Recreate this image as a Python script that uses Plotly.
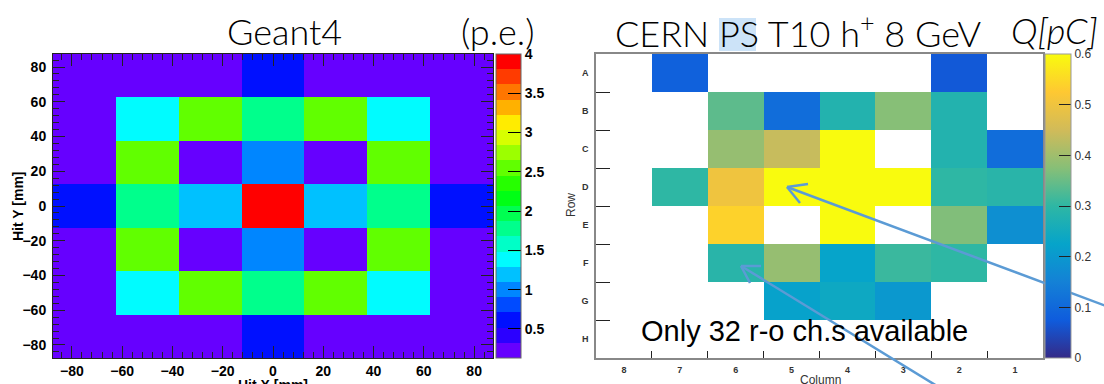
import colorsys
import plotly.graph_objects as go

W, H = 1104, 384

# ---------------- data: left panel (Geant4, p.e.) ----------------
g4_x = [-75, -50, -25, 0, 25, 50, 75]
g4_y = [75, 50, 25, 0, -25, -50, -75]
g4_z = [
    [0.20, 0.20, 0.20, 0.60, 0.20, 0.20, 0.20],
    [0.20, 1.40, 2.55, 1.78, 2.55, 1.40, 0.20],
    [0.20, 2.55, 0.20, 1.00, 0.20, 2.55, 0.20],
    [0.60, 1.78, 1.20, 3.95, 1.20, 1.78, 0.60],
    [0.20, 2.55, 0.20, 1.00, 0.20, 2.55, 0.20],
    [0.20, 1.40, 2.55, 1.78, 2.55, 1.40, 0.20],
    [0.20, 0.20, 0.20, 0.60, 0.20, 0.20, 0.20],
]
g4_zmin, g4_zmax = 0.13, 4.0
g4_cb_ticks = [0.5, 1, 1.5, 2, 2.5, 3, 3.5, 4]

# ---------------- data: right panel (CERN PS, Q[pC]) ----------------
ps_cols = ["8", "7", "6", "5", "4", "3", "2", "1"]
ps_rows = ["A", "B", "C", "D", "E", "F", "G", "H"]
ps_z = [
    [None, 0.085, None, None, None, None, 0.07, None],
    [None, None, 0.34, 0.11, 0.28, 0.375, 0.28, None],
    [None, None, 0.39, 0.44, 0.60, None, 0.28, 0.11],
    [None, 0.30, 0.50, 0.60, 0.60, 0.60, 0.30, 0.29],
    [None, None, 0.54, None, 0.60, None, 0.37, 0.18],
    [None, None, 0.29, 0.39, 0.225, 0.31, 0.30, None],
    [None, None, None, 0.22, 0.24, 0.20, None, None],
    [None, None, None, None, None, None, None, None],
]
ps_zmin, ps_zmax = 0.0, 0.6
ps_cb_ticks = [0, 0.1, 0.2, 0.3, 0.4, 0.5, 0.6]

# ---------------- colour scales ----------------
NB = 20
rainbow = []
for i in range(NB):
    r, g, b = colorsys.hsv_to_rgb((264.0 * (NB - 1 - i) / (NB - 1)) / 360.0, 1, 1)
    c = "rgb(%d,%d,%d)" % (round(r * 255), round(g * 255), round(b * 255))
    rainbow.append([i / NB, c])
    rainbow.append([(i + 1) / NB, c])

bird_r = [0.2082, 0.0592, 0.0780, 0.0232, 0.1802, 0.5301, 0.8186, 0.9956, 0.9764]
bird_g = [0.1664, 0.3599, 0.5041, 0.6419, 0.7178, 0.7492, 0.7328, 0.7862, 0.9832]
bird_b = [0.5293, 0.8684, 0.8385, 0.7914, 0.6425, 0.4662, 0.3499, 0.1968, 0.0539]
bird = [[i / 8, "rgb(%d,%d,%d)" % (round(r * 255), round(g * 255), round(b * 255))]
        for i, (r, g, b) in enumerate(zip(bird_r, bird_g, bird_b))]


def fx(px):
    return px / W


def fy(py):
    return 1 - py / H


TOP, BOT = 54, 358
ROOTF = "Liberation Sans, Arial, sans-serif"
TITLEF = "Lato, Noto Sans, sans-serif"

fig = go.Figure()

fig.add_trace(go.Heatmap(
    x=g4_x, y=g4_y, z=g4_z, zmin=g4_zmin, zmax=g4_zmax,
    colorscale=rainbow, xaxis="x", yaxis="y", hoverinfo="skip",
    colorbar=dict(
        x=fx(496), xanchor="left", xpad=0, ypad=0,
        y=fy((TOP + BOT) / 2), yanchor="middle",
        len=(BOT - TOP) / H, lenmode="fraction",
        thickness=25, thicknessmode="pixels",
        outlinewidth=1, outlinecolor="#666",
        ticks="inside", ticklen=13, tickcolor="black", tickwidth=1,
        tickvals=g4_cb_ticks, ticktext=[("%g" % v) for v in g4_cb_ticks],
        tickfont=dict(family=ROOTF, size=14, color="black", weight="bold"),
    ),
))

fig.add_trace(go.Heatmap(
    x=ps_cols, y=ps_rows, z=ps_z, zmin=ps_zmin, zmax=ps_zmax,
    colorscale=bird, xaxis="x2", yaxis="y2", hoverinfo="skip",
    colorbar=dict(
        x=fx(1045), xanchor="left", xpad=0, ypad=0,
        y=fy((TOP + BOT) / 2), yanchor="middle",
        len=(BOT - TOP) / H, lenmode="fraction",
        thickness=26, thicknessmode="pixels",
        outlinewidth=1, outlinecolor="#999",
        ticks="inside", ticklen=12, tickcolor="#222", tickwidth=1,
        tickvals=ps_cb_ticks, ticktext=[("%g" % v) for v in ps_cb_ticks],
        tickfont=dict(family=ROOTF, size=12, color="#333"),
    ),
))

axis_common = dict(
    showgrid=False, zeroline=False, showline=True,
    linecolor="#222", linewidth=1, mirror="allticks",
    ticks="inside", ticklen=12, tickwidth=1, tickcolor="#222",
    dtick=20, tick0=0,
    minor=dict(dtick=4, tick0=0, ticks="inside", ticklen=6, tickcolor="#222", showgrid=False),
    tickfont=dict(family=ROOTF, size=14, color="black", weight="bold"),
    range=[-87.5, 87.5],
)

fig.update_layout(
    width=W, height=H,
    margin=dict(l=0, r=0, t=0, b=0),
    paper_bgcolor="white", plot_bgcolor="white",
    showlegend=False,
    xaxis=dict(domain=[fx(53), fx(493)], anchor="y", ticklabelstandoff=0, **axis_common),
    yaxis=dict(domain=[fy(BOT), fy(TOP)], anchor="x", ticklabelstandoff=3, **axis_common),
    xaxis2=dict(
        domain=[fx(596), fx(1043)], anchor="y2", type="category",
        categoryorder="array", categoryarray=ps_cols,
        tickson="boundaries", ticks="inside", ticklen=7, tickcolor="#222",
        showgrid=False, zeroline=False, showline=True, linecolor="#888",
        linewidth=1.5, mirror=True, ticklabelstandoff=2,
        tickfont=dict(family=ROOTF, size=9, color="#333", weight="bold"),
    ),
    yaxis2=dict(
        domain=[fy(BOT), fy(TOP)], anchor="x2", type="category",
        categoryorder="array", categoryarray=ps_rows, autorange="reversed",
        tickson="boundaries", ticks="inside", ticklen=14, tickcolor="#222",
        showgrid=False, zeroline=False, showline=True, linecolor="#888",
        linewidth=1.5, mirror=True, ticklabelstandoff=4,
        tickfont=dict(family=ROOTF, size=9, color="#333", weight="bold"),
    ),
)

ARROW = "#5B9BD5"
shapes = [
    dict(type="rect", xref="paper", yref="paper", x0=fx(719), x1=fx(756), y0=fy(51), y1=fy(18),
         fillcolor="#CCE3F8", line=dict(width=0), layer="below"),
    # arrow 1
    dict(type="line", xref="paper", yref="paper", x0=fx(787), y0=fy(187), x1=fx(1106), y1=fy(306),
         line=dict(color=ARROW, width=2.5)),
    dict(type="line", xref="paper", yref="paper", x0=fx(787), y0=fy(187), x1=fx(808), y1=fy(184),
         line=dict(color=ARROW, width=2.5)),
    dict(type="line", xref="paper", yref="paper", x0=fx(787), y0=fy(187), x1=fx(800), y1=fy(203),
         line=dict(color=ARROW, width=2.5)),
    # arrow 2
    dict(type="line", xref="paper", yref="paper", x0=fx(741), y0=fy(266), x1=fx(937), y1=fy(386),
         line=dict(color=ARROW, width=2.5)),
    dict(type="line", xref="paper", yref="paper", x0=fx(741), y0=fy(266), x1=fx(761), y1=fy(266),
         line=dict(color=ARROW, width=2.5)),
    dict(type="line", xref="paper", yref="paper", x0=fx(741), y0=fy(266), x1=fx(750), y1=fy(283),
         line=dict(color=ARROW, width=2.5)),
]


def ann(text, px, py, size, family=TITLEF, xanchor="center", color="black", angle=0, weight="normal"):
    return dict(text=text, x=fx(px), y=fy(py), xref="paper", yref="paper",
                xanchor=xanchor, yanchor="middle", showarrow=False, textangle=angle,
                font=dict(family=family, size=size, color=color, weight=weight))


annotations = [
    ann("Geant4", 284, 31, 36, weight=300),
    ann("(p.e.)", 498, 31, 36, weight=300),
    ann("CERN PS T10 h<sup>+</sup> 8 GeV", 798, 31, 36, weight=300),
    ann("<i>Q[pC]</i>", 1009, 30, 36, xanchor="left", weight=300),
    ann("Hit Y [mm]", 18, 206, 14, family=ROOTF, angle=-90, weight="bold"),
    ann("Hit X [mm]", 273, 385, 14, family=ROOTF, weight="bold"),
    ann("Row", 571, 205, 12, family=ROOTF, angle=-90, color="#333"),
    ann("Column", 820, 380, 12, family=ROOTF, color="#333"),
    ann("Only 32 r-o ch.s available", 639, 331, 29, family=ROOTF, xanchor="left"),
]

fig.update_layout(shapes=shapes, annotations=annotations)
fig.write_html("out.html")
